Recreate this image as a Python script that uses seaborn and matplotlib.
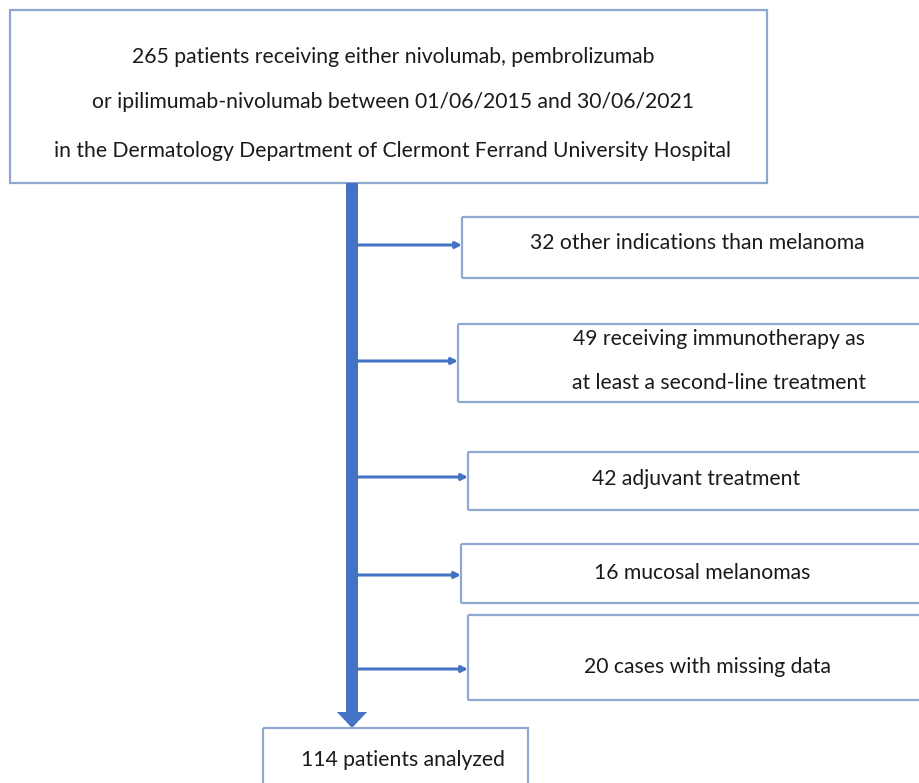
import matplotlib.pyplot as plt
import matplotlib.patches as mpatches
import seaborn as sns

sns.set_theme(style="white")
plt.rcParams['font.family'] = ['Lato', 'DejaVu Sans']

# Flowchart content
top_lines = ['265 patients receiving either nivolumab, pembrolizumab',
             'or ipilimumab-nivolumab between 01/06/2015 and 30/06/2021',
             'in the Dermatology Department of Clermont Ferrand University Hospital']
excluded_counts = [32, 49, 42, 16, 20]
excluded_labels = ['other indications than melanoma',
                   'receiving immunotherapy as\nat least a second-line treatment',
                   'adjuvant treatment',
                   'mucosal melanomas',
                   'cases with missing data']
analyzed_count = 114

# Layout (pixel coordinates)
border = '#8FA8D0'
blue = '#4472C4'
fs = 15.2

fig = plt.figure(figsize=(9.2, 7.83), dpi=100)
ax = fig.add_axes([0, 0, 1, 1])
ax.set_xlim(0, 920)
ax.set_ylim(783, 0)
ax.axis('off')

# top box
ax.add_patch(mpatches.Rectangle((10, 10), 757, 173, fill=False, ec=border, lw=1.6))
for y, line in zip([57, 102, 151], top_lines):
    ax.text(393, y, line, ha='center', va='center', fontsize=fs, color='#1a1a1a')

# main vertical arrow
ax.add_patch(mpatches.FancyArrow(352, 183, 0, 545, width=12, head_width=30,
                                 head_length=16, length_includes_head=True,
                                 fc=blue, ec=blue, lw=0))

# side boxes: (x0, y0, y1, arrow_y, text_x)
side = [(462, 217, 278, 245, 697),
        (458, 324, 402, 361, 719),
        (468, 452, 510, 477, 696),
        (461, 544, 603, 575, 702),
        (468, 615, 700, 669, 708)]
text_y = [[243], [339, 383], [479], [573], [667]]

for (x0, y0, y1, ay, tx), n, lab, tys in zip(side, excluded_counts, excluded_labels, text_y):
    ax.plot([x0, 940], [y0, y0], color=border, lw=1.6, solid_capstyle='butt')
    ax.plot([x0, 940], [y1, y1], color=border, lw=1.6, solid_capstyle='butt')
    ax.plot([x0, x0], [y0, y1], color=border, lw=1.6, solid_capstyle='butt')
    ax.annotate('', xy=(x0, ay), xytext=(358, ay),
                arrowprops=dict(arrowstyle='-|>', color=blue, lw=2.2,
                                mutation_scale=9, shrinkA=0, shrinkB=0))
    lines = f'{n} {lab}'.split('\n')
    for y, line in zip(tys, lines):
        ax.text(tx, y, line, ha='center', va='center', fontsize=fs, color='#1a1a1a')

# bottom box
ax.add_patch(mpatches.Rectangle((263, 728), 265, 80, fill=False, ec=border, lw=1.6))
ax.text(403, 760, f'{analyzed_count} patients analyzed', ha='center', va='center',
        fontsize=fs, color='#1a1a1a')

fig.savefig('out.png', dpi=100, facecolor='white')
